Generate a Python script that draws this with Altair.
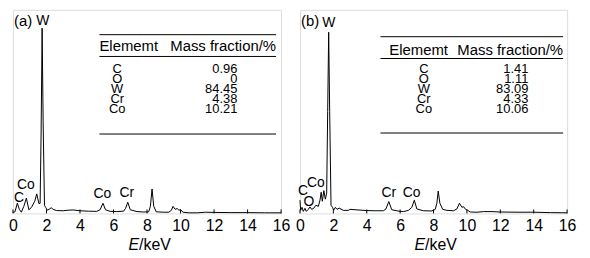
import altair as alt
import pandas as pd

FONT = "Liberation Sans"

# ---------------- data ----------------
energy_a = [0.0, 0.12, 0.26, 0.38, 0.5, 0.65, 0.8, 0.95, 1.1, 1.3, 1.42, 1.55, 1.62, 1.68, 1.74,
            1.8, 1.88, 1.95, 2.05, 2.15, 2.28, 2.4, 2.6, 3.0, 3.3, 3.6, 4.0, 4.5, 5.0, 5.2, 5.37,
            5.52, 5.8, 6.2, 6.6, 6.72, 6.85, 7.0, 7.4, 7.8, 8.1, 8.2, 8.3, 8.4, 8.55, 9.0, 9.3,
            9.45, 9.55, 9.68, 9.8, 9.9, 10.0, 10.15, 10.5, 11.0, 11.5, 12.0, 13.0, 14.0, 15.0, 16.0]
counts_a = [0.5, 0.8, 5.0, 2.0, 0.6, 3.5, 7.5, 1.8, 2.9, 6.0, 9.6, 4.8, 5.0, 40.0, 91.0,
            45.0, 4.0, 3.0, 1.6, 2.0, 2.8, 2.0, 1.4, 1.3, 1.6, 1.7, 1.3, 1.1, 1.0, 1.8, 5.0,
            1.8, 1.0, 0.9, 1.1, 2.5, 5.5, 1.8, 0.9, 0.7, 0.8, 3.5, 12.0, 3.5, 0.8, 0.6, 0.6,
            1.5, 3.5, 2.0, 2.4, 1.6, 1.8, 0.6, 0.3, 0.3, 0.6, 0.5, 0.4, 0.4, 0.3, 0.3]

energy_b = [0.0, 0.04, 0.12, 0.2, 0.3, 0.38, 0.5, 0.6, 0.7, 0.82, 0.95, 1.1, 1.2, 1.27, 1.34,
            1.43, 1.52, 1.6, 1.66, 1.72, 1.78, 1.86, 1.95, 2.02, 2.12, 2.22, 2.35, 2.6, 2.9, 3.0,
            3.3, 4.0, 4.5, 5.0, 5.15, 5.32, 5.5, 5.8, 6.0, 6.2, 6.5, 6.7, 6.85, 7.0, 7.4, 7.9,
            8.1, 8.2, 8.28, 8.38, 8.55, 8.8, 9.2, 9.4, 9.55, 9.7, 9.8, 9.92, 10.05, 10.2, 10.6,
            11.0, 11.5, 12.0, 13.0, 14.0, 15.0, 16.0]
counts_b = [6.5, 1.5, 3.0, 1.0, 2.5, 1.0, 2.0, 3.2, 2.0, 2.5, 4.0, 3.5, 6.5, 10.4, 6.0,
            11.2, 7.0, 10.0, 50.0, 89.0, 50.0, 4.0, 3.0, 1.6, 3.0, 2.0, 2.6, 1.5, 1.5, 2.0,
            1.8, 1.4, 1.3, 1.3, 2.2, 5.8, 1.8, 1.3, 1.0, 0.9, 1.5, 3.0, 6.5, 2.2, 1.3, 1.2,
            2.0, 5.0, 11.0, 5.0, 2.0, 1.5, 1.3, 2.2, 5.0, 3.0, 3.3, 2.0, 1.5, 0.7, 0.6,
            0.9, 0.9, 0.7, 0.6, 0.6, 0.4, 0.3]

elements = ["C", "O", "W", "Cr", "Co"]
mass_a = ["0.96", "0", "84.45", "4.38", "10.21"]
mass_b = ["1.41", "1.11", "83.09", "4.33", "10.06"]
header = ["Elememt", "Mass fraction/%"]

x_ticks = [0, 2, 4, 6, 8, 10, 12, 14, 16]

# peak annotations: (text, keV, intensity)
peaks_a = [("C", 0.36, 7.6), ("Co", 0.77, 14.1), ("Co", 5.33, 9.3), ("Cr", 6.79, 10.0)]
peaks_b = [("C", 0.18, 11.2), ("Co", 0.95, 15.0), ("O", 0.54, 5.6),
           ("Cr", 5.32, 10.0), ("Co", 6.69, 10.0)]

H = 205
ROW_FS = 13
ROW_LH = 10.2


def xenc(field):
    return alt.X(field, type="quantitative",
                 scale=alt.Scale(domain=[0, 16], nice=False, zero=False),
                 axis=alt.Axis(values=x_ticks, format="d", labelFontSize=16, labelFont=FONT,
                               labelColor="black", tickSize=0, domain=False, grid=False,
                               title=None, labelPadding=4, labelFlush=False))


def yenc(field):
    return alt.Y(field, type="quantitative", scale=alt.Scale(domain=[0, 100], nice=False),
                 axis=None)


def panel(energy, counts, tag, tag_y, w_x, w_y, peaks, masses, lay, width, e_split):
    spec = pd.DataFrame({"E": energy, "I": counts})
    line = alt.Chart(spec).mark_line(color="black", strokeWidth=1).encode(
        x=xenc("E"), y=yenc("I"))

    ticks = alt.Chart(pd.DataFrame({"t": x_ticks})).mark_rule(
        color="black", strokeWidth=1).encode(
        x=xenc("t"), y=alt.value(H), y2=alt.value(H - 4))

    ann = pd.DataFrame([{"s": s, "x": x, "y": y} for s, x, y in peaks]
                       + [{"s": "W", "x": w_x, "y": w_y}])
    ann_txt = alt.Chart(ann).mark_text(fontSize=14, font=FONT, color="black",
                                       baseline="middle").encode(
        x=xenc("x"), y=yenc("y"), text="s:N")

    tag_txt = alt.Chart(pd.DataFrame({"s": [tag], "x": [0.06], "y": [tag_y]})).mark_text(
        fontSize=15, font=FONT, color="black", align="left", baseline="middle").encode(
        x=xenc("x"), y=yenc("y"), text="s:N")

    x0, x1 = lay["line_x"]
    rules = alt.Chart(pd.DataFrame({"x": [x0] * 3, "x2": [x1] * 3,
                                    "y": lay["line_y"]})).mark_rule(
        color="black", strokeWidth=1).encode(x=xenc("x"), x2="x2:Q", y=yenc("y"))

    head_l = alt.Chart(pd.DataFrame({"s": [header[0]], "x": [lay["head_l"]],
                                     "y": [lay["head_y"]]})).mark_text(
        fontSize=15, font=FONT, color="black", align="left", baseline="middle").encode(
        x=xenc("x"), y=yenc("y"), text="s:N")
    head_r = alt.Chart(pd.DataFrame({"s": [header[1]], "x": [lay["head_r"]],
                                     "y": [lay["head_y"]]})).mark_text(
        fontSize=15, font=FONT, color="black", align="right", baseline="middle").encode(
        x=xenc("x"), y=yenc("y"), text="s:N")

    anchor = pd.DataFrame({"xe": [lay["el_x"]], "xv": [lay["val_x"]], "y": [73.9]})
    row_el = alt.Chart(anchor).mark_text(
        text=elements, lineHeight=ROW_LH, fontSize=ROW_FS, font=FONT, color="black",
        align="center", baseline="top").encode(x=xenc("xe"), y=yenc("y"))
    row_val = alt.Chart(anchor).mark_text(
        text=masses, lineHeight=ROW_LH, fontSize=ROW_FS, font=FONT, color="black",
        align="right", baseline="top").encode(x=xenc("xv"), y=yenc("y"))

    t_e = alt.Chart(pd.DataFrame({"s": ["E"]})).mark_text(
        fontSize=16, font=FONT, fontStyle="italic", color="black", align="right",
        baseline="alphabetic").encode(x=alt.value(e_split), y=alt.value(241.5), text="s:N")
    t_k = alt.Chart(pd.DataFrame({"s": ["/keV"]})).mark_text(
        fontSize=16, font=FONT, color="black", align="left",
        baseline="alphabetic").encode(x=alt.value(e_split), y=alt.value(241.5), text="s:N")

    return alt.layer(line, ticks, ann_txt, tag_txt, rules, head_l, head_r,
                     row_el, row_val, t_e, t_k).properties(width=width, height=H)


lay_a = {"line_x": (5.16, 15.70), "line_y": [87.8, 77.1, 39.0], "head_l": 5.16,
         "head_r": 15.70, "head_y": 82.0, "el_x": 6.22, "val_x": 13.39}
lay_b = {"line_x": (4.82, 15.76), "line_y": [86.8, 76.1, 39.5], "head_l": 5.35,
         "head_r": 15.76, "head_y": 80.5, "el_x": 7.42, "val_x": 13.68}

pa = panel(energy_a, counts_a, "(a)", 94.5, 1.78, 94.6, peaks_a, mass_a, lay_a, 270, 127)
pb = panel(energy_b, counts_b, "(b)", 94.3, 1.73, 93.6, peaks_b, mass_b, lay_b, 269, 126)

chart = alt.hconcat(pa, pb, spacing=19, bounds="flush").properties(
    padding={"left": 0, "top": 0, "right": 5, "bottom": 0}
).configure_view(stroke="black", strokeWidth=1.5).configure(background="white")

chart.save("out.html", embed_options={"renderer": "svg", "actions": False})
